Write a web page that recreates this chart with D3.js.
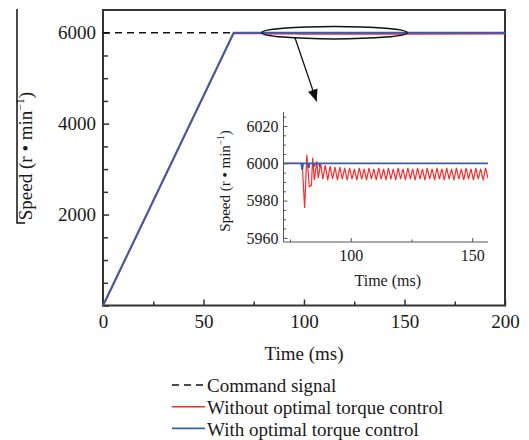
<!DOCTYPE html>
<html>
<head>
<meta charset="utf-8">
<script src="https://cdn.jsdelivr.net/npm/d3@7/dist/d3.min.js"></script>
<style>
body { margin: 0; background: #fff; }
svg text { font-family: "Liberation Serif", "Times New Roman", serif; fill: #1a1a1a; }
</style>
</head>
<body>
<svg id="chart" width="529" height="440"></svg>
<script>
// tick values
let mainXMajor = [0, 50, 100, 150, 200];
let mainXMinor = [25, 75, 125, 175];
let mainYMajor = [0, 2000, 4000, 6000];
let mainYMinor = [500, 1000, 1500, 2500, 3000, 3500, 4500, 5000, 5500];
let insetXMajor = [100, 150];
let insetXMinor = [75, 125];
let insetYMajor = [5960, 5980, 6000, 6020];
let insetYMinor = [5965, 5970, 5975, 5985, 5990, 5995, 6005, 6010, 6015, 6025];

// series: [time ms, speed r/min]
let command = [[0, 6000], [200, 6000]];
let ramp = [[0, 0], [65, 6000]];
let withCtrl = [[72.3, 6000], [79.6, 6000], [80.0, 5996.5], [80.4, 6000], [82.4, 6000], [82.7, 5997.5],
  [83.0, 6000], [84.6, 6000], [84.9, 5998.2], [85.2, 6000], [86.8, 6000], [87.1, 5999], [87.4, 6000], [200, 6000]];
let withoutCtrl = [[72.3, 6000], [80.0, 6000], [81.0, 5976], [81.9, 6004.5], [82.9, 5987.5], [83.8, 5988],
  [84.3, 6003], [85.0, 5991], [86.0, 6001], [86.6, 5992], [87.6, 6000],
  [88.5, 5991.5], [89.5, 5999], [90.5, 5991], [91.5, 5998.5], [92.5, 5991.5], [93.5, 5998], [94.5, 5991],
  [95.5, 5998], [96.5, 5991.5], [97.5, 5997.5], [98.5, 5991], [99.5, 5997.5], [100.5, 5991.5], [101.5, 5997],
  [102.5, 5991], [103.5, 5997.5], [104.5, 5991.5], [105.5, 5997], [106.5, 5991], [107.5, 5997.5], [108.5, 5991.5],
  [109.5, 5997], [110.5, 5991], [111.5, 5997.5], [112.5, 5991.5], [113.5, 5997], [114.5, 5991], [115.5, 5997.5],
  [116.5, 5991.5], [117.5, 5997], [118.5, 5991], [119.5, 5997.5], [120.5, 5991.5], [121.5, 5997], [122.5, 5991],
  [123.5, 5997.5], [124.5, 5991.5], [125.5, 5997], [126.5, 5991], [127.5, 5997.5], [128.5, 5991.5], [129.5, 5997],
  [130.5, 5991], [131.5, 5997.5], [132.5, 5991.5], [133.5, 5997], [134.5, 5991], [135.5, 5997.5], [136.5, 5991.5],
  [137.5, 5997], [138.5, 5991], [139.5, 5997.5], [140.5, 5991.5], [141.5, 5997], [142.5, 5991], [143.5, 5997.5],
  [144.5, 5991.5], [145.5, 5997], [146.5, 5991], [147.5, 5997.5], [148.5, 5991.5], [149.5, 5997], [150.5, 5991],
  [151.5, 5997.5], [152.5, 5991.5], [153.5, 5997], [154.5, 5991], [155.5, 5997.5], [156.5, 5992], [200, 5994]];

let legendLabels = ["Command signal", "Without optimal torque control", "With optimal torque control"];

let blue = "#3b5cae", red = "#ff2a2a";

let svg = d3.select("#chart");

// main chart
let x = d3.scaleLinear().domain([0, 200]).range([103, 505]);
let y = d3.scaleLinear().domain([0, 6500]).range([305.5, 10]);

let line = d3.line().x(d => x(d[0])).y(d => y(d[1]));

function axisStyle(g) {
    g.select(".domain").remove();
    g.selectAll("line").attr("stroke", "#333").attr("stroke-width", 1.5);
    g.selectAll("text").style("font-size", "19px").attr("fill", "#1a1a1a");
}

svg.append("g").attr("transform", "translate(0,305.5)")
    .call(d3.axisBottom(x).tickValues(mainXMinor).tickSizeInner(-4).tickSizeOuter(0).tickFormat(""))
    .call(axisStyle);
svg.append("g").attr("transform", "translate(0,305.5)")
    .call(d3.axisBottom(x).tickValues(mainXMajor).tickSizeInner(-6).tickSizeOuter(0).tickPadding(9))
    .call(axisStyle);
svg.append("g").attr("transform", "translate(103,0)")
    .call(d3.axisLeft(y).tickValues(mainYMinor).tickSizeInner(-5).tickSizeOuter(0).tickFormat(""))
    .call(axisStyle);
svg.append("g").attr("transform", "translate(103,0)")
    .call(d3.axisLeft(y).tickValues(mainYMajor).tickSizeInner(-6).tickSizeOuter(0).tickPadding(7)
        .tickFormat(d => d === 0 ? "" : d))
    .call(axisStyle);

svg.append("rect")
    .attr("x", x(0)).attr("y", y(6500))
    .attr("width", x(200) - x(0)).attr("height", y(0) - y(6500))
    .attr("fill", "none").attr("stroke", "#333").attr("stroke-width", 2);

svg.append("path").datum(command).attr("d", line)
    .attr("fill", "none").attr("stroke", "#111").attr("stroke-width", 1.5).attr("stroke-dasharray", "7,5");
svg.append("path").datum(ramp.concat(withoutCtrl)).attr("d", line)
    .attr("fill", "none").attr("stroke", red).attr("stroke-width", 1.5)
    .attr("transform", "translate(0,0.8)");
svg.append("path").datum(ramp.concat(withCtrl)).attr("d", line)
    .attr("fill", "none").attr("stroke", blue).attr("stroke-width", 2);

// zoom ellipse and arrow
svg.append("ellipse")
    .attr("cx", (x(79) + x(151.3)) / 2).attr("cy", y(6000))
    .attr("rx", (x(151.3) - x(79)) / 2).attr("ry", 6.2)
    .attr("fill", "none").attr("stroke", "#111").attr("stroke-width", 1.5);

svg.append("defs").append("marker")
    .attr("id", "arrow").attr("viewBox", "0 0 12 10")
    .attr("refX", 12).attr("refY", 5)
    .attr("markerWidth", 12).attr("markerHeight", 10)
    .attr("markerUnits", "userSpaceOnUse").attr("orient", "auto")
    .append("path").attr("d", "M0,0 L12,5 L0,10 Z").attr("fill", "#111");

svg.append("line")
    .attr("x1", x(95.5)).attr("y1", y(5890))
    .attr("x2", x(106.3)).attr("y2", y(4490))
    .attr("stroke", "#111").attr("stroke-width", 1.3)
    .attr("marker-end", "url(#arrow)");

// axis titles
svg.append("text").attr("x", x(100)).attr("y", 360).attr("text-anchor", "middle")
    .style("font-size", "19px").text("Time (ms)");

function speedTitle(sel, size) {
    sel.append("tspan").text("Speed (r • min");
    sel.append("tspan").attr("dy", -size * 0.4).style("font-size", (size * 0.62) + "px").text("−1");
    sel.append("tspan").attr("dy", size * 0.4).text(")");
}

svg.append("text").attr("transform", "translate(31.5,156) rotate(-90)")
    .attr("text-anchor", "middle").style("font-size", "19px")
    .call(speedTitle, 19);

svg.append("path").attr("d", "M17,9V223H25")
    .attr("fill", "none").attr("stroke", "#111").attr("stroke-width", 1.5);

// inset
let ix = d3.scaleLinear().domain([72.3, 156.5]).range([283.5, 488]);
let iy = d3.scaleLinear().domain([5957.8, 6027.5]).range([242, 112]);
let iline = d3.line().x(d => ix(d[0])).y(d => iy(d[1]));

function insetStyle(g) {
    g.select(".domain").remove();
    g.selectAll("line").attr("stroke", "#555").attr("stroke-width", 1);
    g.selectAll("text").style("font-size", "16px").attr("fill", "#1a1a1a");
}

svg.append("g").attr("transform", "translate(0,242)")
    .call(d3.axisBottom(ix).tickValues(insetXMinor).tickSizeInner(-2.5).tickSizeOuter(0).tickFormat(""))
    .call(insetStyle);
svg.append("g").attr("transform", "translate(0,242)")
    .call(d3.axisBottom(ix).tickValues(insetXMajor).tickSizeInner(-4).tickSizeOuter(0).tickPadding(8)
        .tickFormat(d3.format("d")))
    .call(insetStyle);
svg.append("g").attr("transform", "translate(283.5,0)")
    .call(d3.axisLeft(iy).tickValues(insetYMinor).tickSizeInner(-2.5).tickSizeOuter(0).tickFormat(""))
    .call(insetStyle);
svg.append("g").attr("transform", "translate(283.5,0)")
    .call(d3.axisLeft(iy).tickValues(insetYMajor).tickSizeInner(-4).tickSizeOuter(0).tickPadding(5)
        .tickFormat(d3.format("d")))
    .call(insetStyle);

svg.append("path").attr("d", "M283.5,112V242H488")
    .attr("fill", "none").attr("stroke", "#555").attr("stroke-width", 1);

svg.append("clipPath").attr("id", "iclip").append("rect")
    .attr("x", 283.5).attr("y", 112).attr("width", 488 - 283.5).attr("height", 130);

let inset = svg.append("g").attr("clip-path", "url(#iclip)");
inset.append("path").datum(withoutCtrl).attr("d", iline)
    .attr("fill", "none").attr("stroke", red).attr("stroke-width", 1.2);
inset.append("path").datum(withCtrl).attr("d", iline)
    .attr("fill", "none").attr("stroke", blue).attr("stroke-width", 1.8);

svg.append("text").attr("x", (ix(72.3) + ix(156.5)) / 2 + 2).attr("y", 286).attr("text-anchor", "middle")
    .style("font-size", "16px").text("Time (ms)");

svg.append("text").attr("transform", "translate(230,181) rotate(-90)")
    .attr("text-anchor", "middle").style("font-size", "15px")
    .call(speedTitle, 15);

// legend
let legend = svg.append("g").attr("transform", "translate(172,385)");
let styles = [{c: "#111", d: "7,5"}, {c: red, d: null}, {c: blue, d: null}];
legendLabels.forEach(function(label, i) {
    let g = legend.append("g").attr("transform", "translate(0," + (i * 21.7) + ")");
    g.append("line").attr("x1", 0).attr("x2", 33).attr("y1", 0).attr("y2", 0)
        .attr("stroke", styles[i].c).attr("stroke-width", 1.6)
        .attr("stroke-dasharray", styles[i].d);
    g.append("text").attr("x", 35).attr("y", 7.3).style("font-size", "19px").text(label);
});
</script>
</body>
</html>
